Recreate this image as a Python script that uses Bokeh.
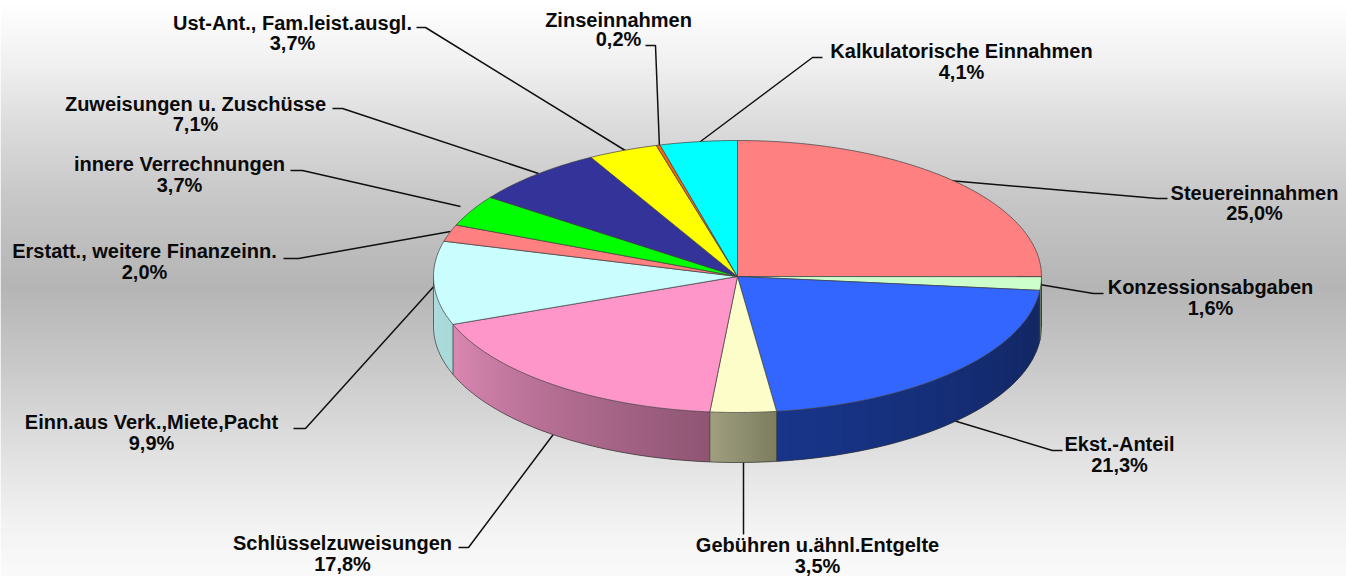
import math
from bokeh.plotting import figure
from bokeh.models import Range1d
from bokeh.core.properties import value
from bokeh.embed import file_html
from bokeh.resources import INLINE

# ---- data ----
names = ["Steuereinnahmen", "Konzessionsabgaben", "Ekst.-Anteil", "Gebühren u.ähnl.Entgelte",
         "Schlüsselzuweisungen", "Einn.aus Verk.,Miete,Pacht", "Erstatt., weitere Finanzeinn.",
         "innere Verrechnungen", "Zuweisungen u. Zuschüsse", "Ust-Ant., Fam.leist.ausgl.",
         "Zinseinnahmen", "Kalkulatorische Einnahmen"]
shares = [25.0, 1.6, 21.3, 3.5, 17.8, 9.9, 2.0, 3.7, 7.1, 3.7, 0.2, 4.1]
pct_labels = ["25,0%", "1,6%", "21,3%", "3,5%", "17,8%", "9,9%", "2,0%", "3,7%", "7,1%", "3,7%", "0,2%", "4,1%"]

# ---- styles / layout (reference pixels) ----
top_colors = ["#ff8080", "#ccffcc", "#3366ff", "#fdfdca", "#ff96ca", "#cafdfd", "#ff8080",
              "#00ff00", "#333399", "#ffff00", "#ff6600", "#00ffff"]
side_left = ["#a05050", "#80a080", "#18358a", "#a0a080", "#da88b2", "#b0dcdc", "#a05050",
             "#00a000", "#202060", "#a0a000", "#a04000", "#00a0a0"]
side_right = ["#804040", "#709070", "#122660", "#7c7c60", "#8f5573", "#a8d8d8", "#804040",
              "#008000", "#181850", "#808000", "#803000", "#008080"]
label_x = [1254, 1210, 1119, 817, 342, 151, 144, 179, 195, 292, 618, 961]
name_y = [192, 286, 443, 544, 542, 421, 250, 163, 103, 22, 19, 50]
pct_y = [212, 307, 464, 565, 563, 442, 271, 184, 123, 42, 38, 71]
leader_xs = [[948, 1157, 1167], [1039, 1093, 1103], [953, 1052, 1062], [743, 743, 743],
             [555, 468, 458], [436, 305, 293], [450, 298, 283], [460, 302, 290],
             [538, 342, 332], [628, 425, 416], [659, 655, 645], [696, 812, 822]]
leader_ys = [[180, 198, 198], [284, 293, 293], [420, 450, 450], [460, 500, 534],
             [431, 547, 547], [283, 428, 428], [231, 258, 258], [206, 170, 170],
             [173, 108, 108], [152, 27, 27], [148, 45, 45], [144, 57, 57]]
grad_y = [0, 60, 120, 200, 285, 380, 450, 520, 576]
grad_v = [255, 241, 221, 198, 181, 205, 224, 242, 250]
CX, CY, RX, RY, DEPTH = 737.0, 276.0, 304.0, 136.0, 50.0
FONT = "Liberation Sans"


def hex2rgb(h):
    return tuple(int(h[i:i + 2], 16) for i in (1, 3, 5))


def mix(a, b, t):
    a, b = hex2rgb(a), hex2rgb(b)
    return "#%02x%02x%02x" % tuple(round(a[i] + (b[i] - a[i]) * t) for i in range(3))


def pt(ang, dy=0.0):
    # ang: fraction of the full turn, clockwise from top
    th = 2 * math.pi * ang
    return CX + RX * math.sin(th), CY - RY * math.cos(th) + dy


p = figure(width=1346, height=576, x_range=Range1d(0, 1346), y_range=Range1d(576, 0),
           output_backend="svg", toolbar_location=None, min_border=0)
p.axis.visible = False
p.grid.visible = False
p.outline_line_color = None

# background gradient
ys, cols = [], []
for y in range(0, 576, 2):
    for i in range(len(grad_y) - 1):
        if grad_y[i] <= y <= grad_y[i + 1]:
            v = grad_v[i] + (grad_v[i + 1] - grad_v[i]) * (y - grad_y[i]) / (grad_y[i + 1] - grad_y[i])
            break
    ys.append(y)
    cols.append("#%02x%02x%02x" % (round(v), round(v), min(255, round(v) + 1)))
p.quad(left=0, right=1346, top=ys, bottom=[y + 2.5 for y in ys], fill_color=cols, line_color=None)

# leader lines
p.multi_line(leader_xs, leader_ys, line_color="#101010", line_width=1.5)

total = sum(shares)
starts, s = [], 0.0
for v in shares:
    starts.append(s / total)
    s += v
ends = starts[1:] + [1.0]

# side wall: only the front half of the pie (0.25 .. 0.75 of the turn)
sx, sy, sc = [], [], []
for i in range(len(shares)):
    a0, a1 = max(starts[i], 0.25), min(ends[i], 0.75)
    if a1 <= a0:
        continue
    x_first, x_last = pt(a0)[0], pt(a1)[0]
    n = max(1, int(abs(x_last - x_first) / 2))
    for k in range(n):
        b0 = a0 + (a1 - a0) * k / n
        b1 = a0 + (a1 - a0) * min(k + 2, n) / n  # overlaps the next piece, no seams
        P0, P1 = pt(b0), pt(b1)
        sx.append([P0[0], P1[0], P1[0], P0[0]])
        sy.append([P0[1], P1[1], P1[1] + DEPTH, P0[1] + DEPTH])
        sc.append(mix(side_left[i], side_right[i], 1 - (k + 0.5) / n))
p.patches(sx, sy, fill_color=sc, line_color=None)

# wall outlines
wall_xs, wall_ys = [], []
for a in [0.25] + [e for e in ends if 0.25 < e < 0.75] + [0.75]:
    P = pt(a)
    wall_xs.append([P[0], P[0]])
    wall_ys.append([P[1], P[1] + DEPTH])
arc = [0.25 + 0.5 * k / 240 for k in range(241)]
wall_xs.append([pt(a)[0] for a in arc])
wall_ys.append([pt(a, DEPTH)[1] for a in arc])
p.multi_line(wall_xs, wall_ys, line_color="#333333", line_alpha=0.7, line_width=1)

# top slices
tx, ty = [], []
for a0, a1 in zip(starts, ends):
    n = max(2, int((a1 - a0) * 360))
    pts = [pt(a0 + (a1 - a0) * k / n) for k in range(n + 1)]
    tx.append([CX] + [q[0] for q in pts])
    ty.append([CY] + [q[1] for q in pts])
p.patches(tx, ty, fill_color=top_colors, line_color="#404040", line_alpha=0.7, line_width=1)

# labels
for col_y, col_t in ((name_y, names), (pct_y, pct_labels)):
    p.text(x=label_x, y=col_y, text=col_t, text_font=value(FONT), text_font_style="bold",
           text_font_size="20px", text_color="#0a0a0a", text_align="center", text_baseline="middle")

open("out.html", "w").write(file_html(p, INLINE))
